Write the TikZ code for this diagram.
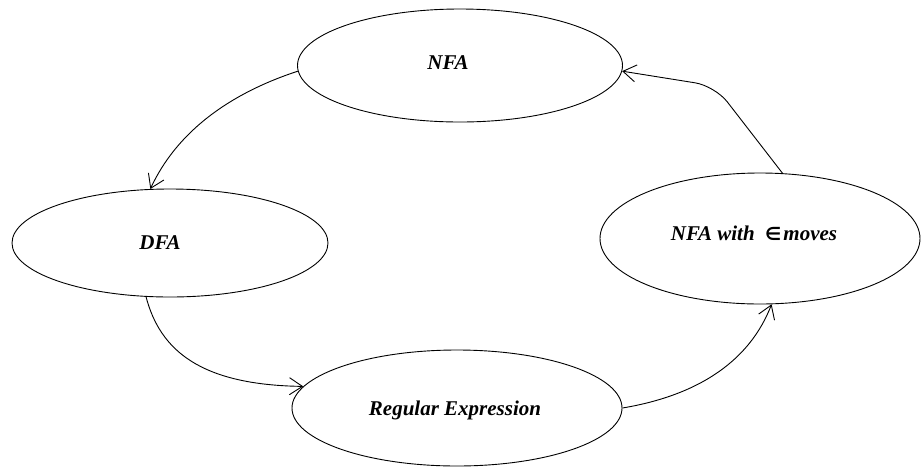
\documentclass[tikz,border=0pt]{standalone}
\usepackage{fontspec}
\setmainfont{Liberation Serif}
\newfontfamily\symbolfont{DejaVu Sans}
\usetikzlibrary{shapes.geometric,arrows.meta}
\begin{document}
\begin{tikzpicture}[x=1pt,y=-1pt,
  state/.style={draw, ellipse, line width=0.9pt, inner sep=0pt},
  statetext/.style={font=\fontsize{21}{25}\selectfont\bfseries\itshape, inner sep=0pt},
  flow/.style={line width=0.9pt, -{Straight Barb[length=13pt,width=17pt,line width=0.9pt]}}]
  \useasboundingbox (0,0) rectangle (922,467);

  % the four automaton / expression forms
  \node[state, minimum width=325pt, minimum height=113pt] (nfa)   at (460,65.5) {};
  \node[state, minimum width=316pt, minimum height=108pt] (dfa)   at (170,243)  {};
  \node[state, minimum width=330pt, minimum height=116pt] (regex) at (457,408)  {};
  \node[state, minimum width=320pt, minimum height=131pt] (nfae)  at (760,238.5) {};

  \node[statetext] (nfa-t)   at (448,63)  {NFA};
  \node[statetext] (dfa-t)   at (160,243) {DFA};
  \node[statetext] (regex-t) at (455,410) {Regular Expression};
  \node[statetext] (nfae-t)  at (754,233) {NFA with\hspace{0.5em}{\symbolfont\bfseries\upshape\fontsize{18}{20}\selectfont ∈}\hspace{0.1em}moves};

  % conversions between them
  \coordinate (bend) at (715,86);
  \draw[flow] (nfa.182) .. controls (240,90) and (180,125) .. (dfa.110);
  \draw[flow] (dfa.246) .. controls (160,350) and (200,385) .. (regex.172);
  \draw[flow] (regex.0) .. controls (700,395) and (750,360) .. (nfae.280);
  \draw[flow, rounded corners=20pt] (nfae.71) -- (bend) -- (nfa.358);
\end{tikzpicture}
\end{document}
